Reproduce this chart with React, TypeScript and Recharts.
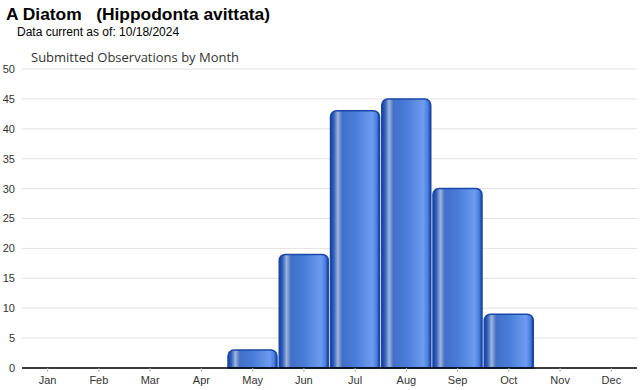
import React from "react";
import { BarChart, Bar, XAxis, YAxis, CartesianGrid } from "recharts";

const months = ["Jan", "Feb", "Mar", "Apr", "May", "Jun", "Jul", "Aug", "Sep", "Oct", "Nov", "Dec"];
const observations = [0, 0, 0, 0, 3, 19, 43, 45, 30, 9, 0, 0];
const yTicks = [0, 5, 10, 15, 20, 25, 30, 35, 40, 45, 50];

const data = months.map((m, i) => ({ month: m, count: observations[i] }));

export default function App() {
  return (
    <div style={{ position: "absolute", left: 0, top: 0, width: 640, height: 390, background: "#fff" }}>
      <div style={{ position: "absolute", left: 6, top: 4, fontFamily: "'Liberation Sans', Arial, sans-serif", fontWeight: "bold", fontSize: 17.4, color: "#000", whiteSpace: "pre" }}>
        {"A Diatom   (Hippodonta avittata)"}
      </div>
      <div style={{ position: "absolute", left: 17, top: 25, fontFamily: "'Liberation Sans', Arial, sans-serif", fontSize: 12, color: "#000" }}>
        Data current as of: 10/18/2024
      </div>
      <div style={{ position: "absolute", left: 31, top: 48, fontFamily: "'Open Sans', sans-serif", fontSize: 13, color: "#333" }}>
        Submitted Observations by Month
      </div>
      <BarChart
        width={640}
        height={390}
        data={data}
        margin={{ top: 69, right: 3, left: 0, bottom: 0 }}
        barCategoryGap={1}
      >
        <defs>
          <linearGradient id="barGrad" x1="0" y1="0" x2="1" y2="0">
            <stop offset="0" stopColor="#123e9e" />
            <stop offset="0.07" stopColor="#3463c0" />
            <stop offset="0.15" stopColor="#a0b4d8" />
            <stop offset="0.24" stopColor="#4170c8" />
            <stop offset="0.5" stopColor="#497cd8" />
            <stop offset="0.85" stopColor="#6d9cee" />
            <stop offset="0.94" stopColor="#4b80e0" />
            <stop offset="1" stopColor="#123e9e" />
          </linearGradient>
        </defs>
        <CartesianGrid vertical={false} stroke="#e2e2e2" />
        <XAxis
          dataKey="month"
          height={22}
          axisLine={{ stroke: "#000", strokeWidth: 1.5 }}
          tickLine={{ stroke: "#bbb" }}
          tickSize={4}
          tickMargin={4}
          tick={{ fontSize: 11, fill: "#333", fontFamily: "'Liberation Sans', Arial, sans-serif" }}
          interval={0}
        />
        <YAxis
          width={22}
          domain={[0, 50]}
          ticks={yTicks}
          axisLine={false}
          tickLine={false}
          tickSize={0}
          tickMargin={7}
          tick={{ fontSize: 11, fill: "#333", fontFamily: "'Liberation Sans', Arial, sans-serif" }}
        />
        <Bar
          dataKey="count"
          fill="url(#barGrad)"
          stroke="#1a47a8"
          strokeWidth={1.5}
          radius={[6, 6, 0, 0]}
          isAnimationActive={false}
        />
      </BarChart>
    </div>
  );
}
